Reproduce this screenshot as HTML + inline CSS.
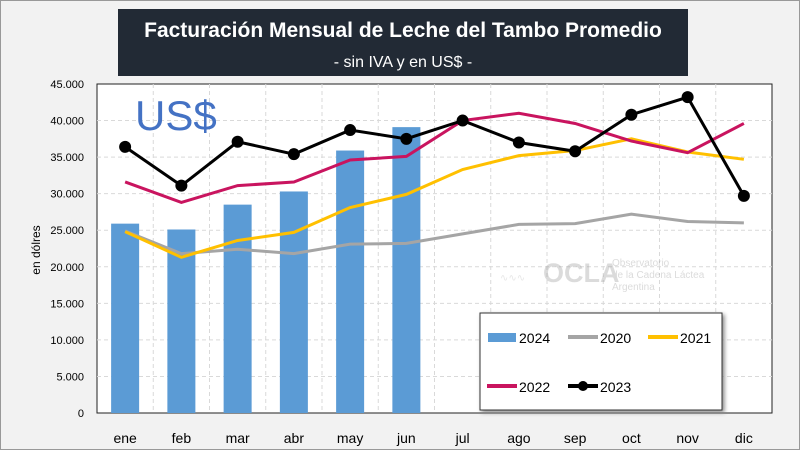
<!DOCTYPE html>
<html><head><meta charset="utf-8"><style>
body{margin:0;width:800px;height:450px;overflow:hidden;background:#f2f2f2;font-family:"Liberation Sans",sans-serif}
</style></head><body>
<svg width="800" height="450" style="position:absolute;left:0;top:0">
<rect x="0.5" y="0.5" width="799" height="449" fill="#f2f2f2" stroke="#999"/>
<rect x="118" y="9" width="570" height="67" fill="#222a35"/>
<text x="403" y="37" text-anchor="middle" fill="#fff" font-size="21" font-weight="bold">Facturación Mensual de Leche del Tambo Promedio</text>
<text x="403" y="67" text-anchor="middle" fill="#fff" font-size="16">- sin IVA y en US$ -</text>
<rect x="97" y="84" width="675" height="329" fill="#fff" stroke="#222"/>
<g id="grid"></g>
<text x="135" y="130" fill="#4472c4" font-size="42">US$</text>
<g opacity="0.35" fill="#999">
<text x="500" y="281" font-size="10" fill="#bbb">∿∿∿</text>
<text x="543" y="282" font-size="27" font-weight="bold">OCLA</text>
<text x="612" y="266" font-size="10">Observatorio</text>
<text x="612" y="278" font-size="10">de la Cadena Láctea</text>
<text x="612" y="290" font-size="10">Argentina</text>
</g>
<g id="bars"></g><g id="lines"></g><g id="axes"></g>
<text transform="translate(40,250) rotate(-90)" text-anchor="middle" font-size="12" fill="#000">en dólres</text>
<g>
<rect x="480" y="313" width="242" height="97" fill="#fff" stroke="#333" style="filter:drop-shadow(2px 2px 2px #888)"/>
<rect x="488" y="333" width="28" height="9" fill="#5b9bd5"/><text x="519" y="343" font-size="14">2024</text>
<line x1="568" y1="337" x2="598" y2="337" stroke="#a5a5a5" stroke-width="4"/><text x="600" y="343" font-size="14">2020</text>
<line x1="648" y1="337" x2="678" y2="337" stroke="#ffc000" stroke-width="4"/><text x="680" y="343" font-size="14">2021</text>
<line x1="487" y1="386" x2="517" y2="386" stroke="#c9145f" stroke-width="4"/><text x="519" y="392" font-size="14">2022</text>
<line x1="568" y1="386" x2="598" y2="386" stroke="#000" stroke-width="4"/><circle cx="583" cy="386" r="5"/><text x="600" y="392" font-size="14">2023</text>
</g>
</svg>
<script>
const months=["ene","feb","mar","abr","may","jun","jul","ago","sep","oct","nov","dic"];
const yTicks=[0,5000,10000,15000,20000,25000,30000,35000,40000,45000];
const yTickLabels=["0","5.000","10.000","15.000","20.000","25.000","30.000","35.000","40.000","45.000"];
const s2024=[25900,25100,28500,30300,35900,39100];
const s2020=[24900,21800,22400,21800,23100,23200,24500,25800,25900,27200,26200,26000];
const s2021=[24800,21300,23600,24700,28100,29900,33300,35200,35900,37500,35700,34700];
const s2022=[31600,28800,31100,31600,34600,35100,40000,41000,39600,37200,35600,39600];
const s2023=[36400,31100,37100,35400,38700,37500,40000,37000,35800,40800,43200,29700];
const L=97,R=772,T=84,B=413,NS="http://www.w3.org/2000/svg";
const bw=(R-L)/months.length;
const x=i=>L+bw*(i+0.5);
const y=v=>B-(v/45000)*(B-T);
function mk(t,a,p){const e=document.createElementNS(NS,t);for(const k in a)e.setAttribute(k,a[k]);document.getElementById(p).appendChild(e);return e;}
yTicks.forEach((v,i)=>{
 if(v>0&&v<45000){const g=mk('line',{x1:L,x2:R,y1:y(v),y2:y(v),stroke:'#d9d9d9','stroke-dasharray':'4,3'},'grid');
 
 }
 const t=mk('text',{x:L-13,y:y(v)+4,'text-anchor':'end','font-size':11},'axes');t.textContent=yTickLabels[i];
 
 
});
months.forEach((m,i)=>{
 if(i>0){const g=mk('line',{x1:L+bw*i,x2:L+bw*i,y1:T,y2:B,stroke:'#d9d9d9','stroke-dasharray':'4,3'},'grid');
 
 }
 const t=mk('text',{x:x(i),y:443,'text-anchor':'middle','font-size':14},'axes');t.textContent=m;
 
 
});
s2024.forEach((v,i)=>{const r=mk('rect',{x:x(i)-14,y:y(v),width:28,height:B-y(v),fill:'#5b9bd5'},'bars');
 
 });
function line(d,c,n){const p=mk('polyline',{points:d.map((v,i)=>x(i)+','+y(v)).join(' '),fill:'none',stroke:c,'stroke-width':3},'lines');
 
 }
line(s2020,'#a5a5a5','line-2020');line(s2021,'#ffc000','line-2021');line(s2022,'#c9145f','line-2022');line(s2023,'#000','line-2023');
s2023.forEach((v,i)=>{const c=mk('circle',{cx:x(i),cy:y(v),r:6,fill:'#000'},'lines');
 
 });
</script>
</body></html>
